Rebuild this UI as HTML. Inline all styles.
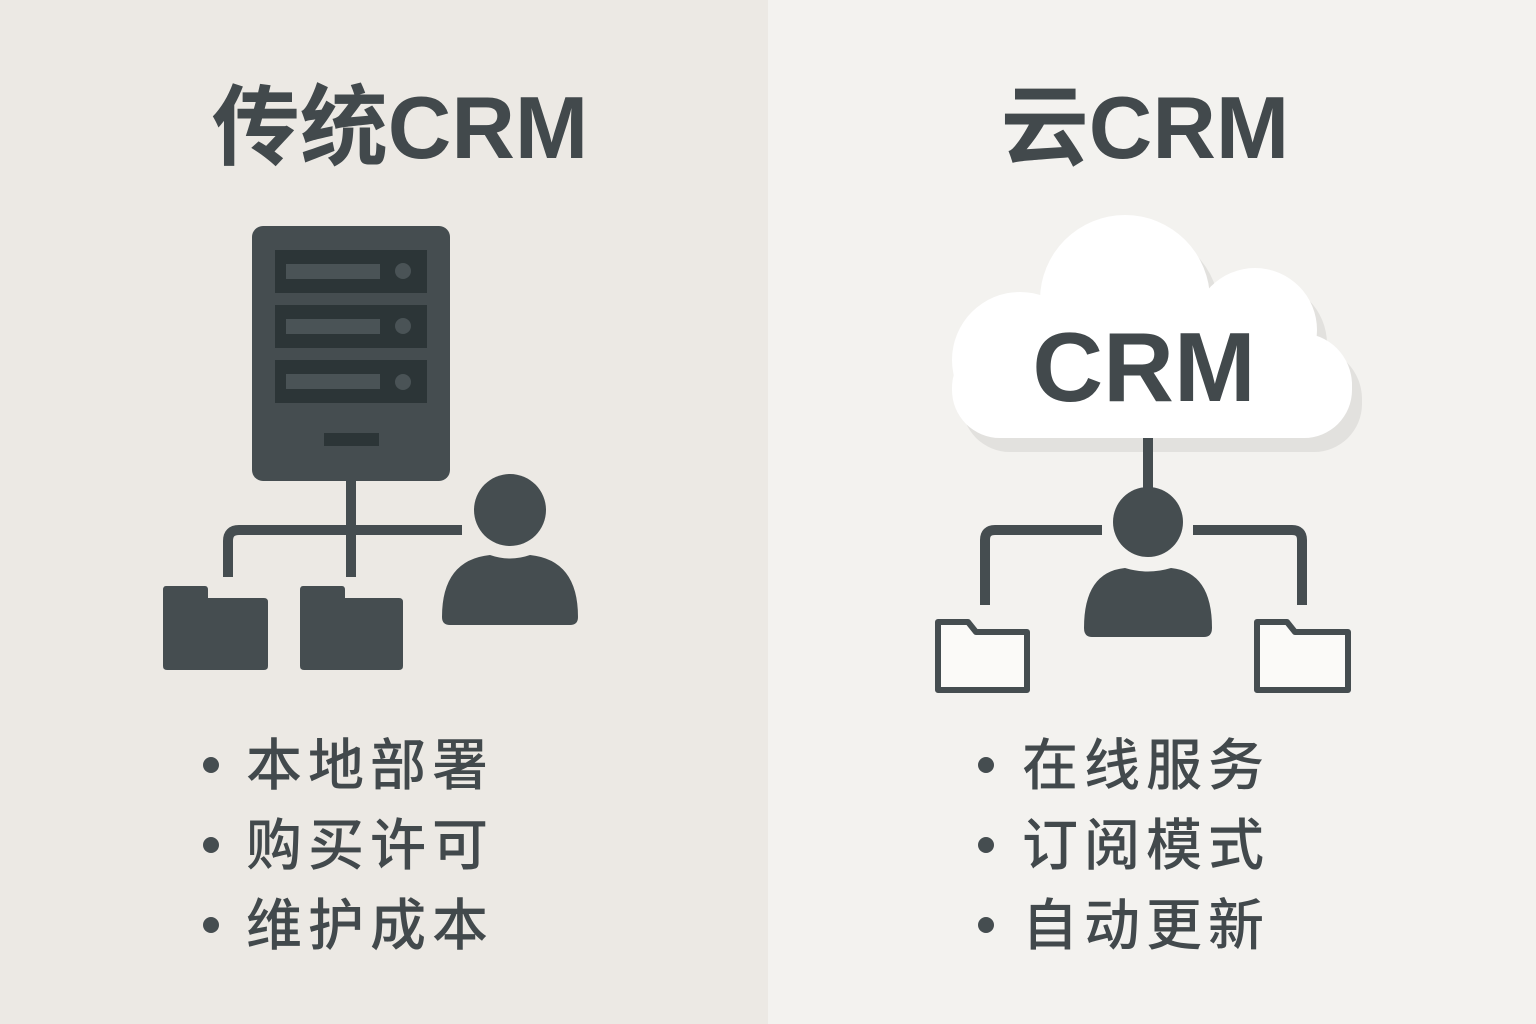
<!DOCTYPE html>
<html><head><meta charset="utf-8"><style>
html,body{margin:0;padding:0;width:1536px;height:1024px;overflow:hidden}
text{font-family:"Liberation Sans","Noto Sans CJK SC",sans-serif;fill:#42494c}
</style></head><body>
<svg width="1536" height="1024" viewBox="0 0 1536 1024" xmlns="http://www.w3.org/2000/svg">
<rect x="0" y="0" width="768" height="1024" fill="#ece9e4"/>
<rect x="768" y="0" width="768" height="1024" fill="#f3f2ef"/>
<text x="400" y="158" font-size="88" font-weight="bold" text-anchor="middle">传统CRM</text>
<text x="1145" y="158" font-size="88" font-weight="bold" text-anchor="middle">云CRM</text>

<g fill="#454d50">
<rect x="252" y="226" width="198" height="255" rx="11"/>
</g>
<g fill="#2c3537">
<rect x="275" y="250" width="152" height="43"/>
<rect x="275" y="305" width="152" height="43"/>
<rect x="275" y="360" width="152" height="43"/>
<rect x="324" y="433" width="55" height="13"/>
</g>
<g fill="#4a5356">
<rect x="286" y="264" width="94" height="15"/>
<rect x="286" y="319" width="94" height="15"/>
<rect x="286" y="374" width="94" height="15"/>
<circle cx="403" cy="271" r="8"/><circle cx="403" cy="326" r="8"/><circle cx="403" cy="382" r="8"/>
</g>
<g stroke="#454d50" stroke-width="10" fill="none">
<line x1="351" y1="481" x2="351" y2="577"/>
<path d="M228 577 V541 Q228 530 239 530 H462"/>
</g>
<g fill="#454d50">
<path d="M166 586 H205 Q208 586 208 590 V598 H264 Q268 598 268 602 V666 Q268 670 264 670 H167 Q163 670 163 666 V590 Q163 586 166 586Z"/>
<path d="M303 586 H342 Q345 586 345 590 V598 H399 Q403 598 403 602 V666 Q403 670 399 670 H304 Q300 670 300 666 V590 Q300 586 303 586Z"/>
<circle cx="510" cy="510" r="36"/>
<path d="M442 617 Q442 560 490 555 Q510 562 530 555 Q578 560 578 617 Q578 625 570 625 H450 Q442 625 442 617Z"/>
</g>
<g fill="#454d50">
<circle cx="211" cy="765" r="8"/><circle cx="211" cy="845" r="8"/><circle cx="211" cy="925" r="8"/>
<circle cx="986" cy="765" r="8"/><circle cx="986" cy="845" r="8"/><circle cx="986" cy="925" r="8"/>
</g>
<g font-size="56" letter-spacing="6" font-weight="500">
<text x="246" y="785">本地部署</text>
<text x="246" y="865">购买许可</text>
<text x="246" y="945">维护成本</text>
<text x="1022" y="785">在线服务</text>
<text x="1022" y="865">订阅模式</text>
<text x="1022" y="945">自动更新</text>
</g>

<g fill="#e2e1de" transform="translate(10,14)">
<circle cx="1125" cy="300" r="85"/><circle cx="1020" cy="360" r="68"/><circle cx="1255" cy="330" r="62"/><circle cx="1300" cy="385" r="52"/>
<rect x="952" y="340" width="400" height="98" rx="48"/>
</g>
<g fill="#ffffff">
<circle cx="1125" cy="300" r="85"/><circle cx="1020" cy="360" r="68"/><circle cx="1255" cy="330" r="62"/><circle cx="1300" cy="385" r="52"/>
<rect x="952" y="340" width="400" height="98" rx="48"/>
</g>
<text x="1144" y="401" font-size="98" font-weight="bold" text-anchor="middle">CRM</text>
<g stroke="#454d50" stroke-width="10" fill="none">
<line x1="1148" y1="438" x2="1148" y2="492"/>
<path d="M985 605 V540 Q985 530 995 530 H1102"/>
<path d="M1193 530 H1292 Q1302 530 1302 540 V605"/>
</g>
<g fill="#454d50">
<circle cx="1148" cy="522" r="35"/>
<path d="M1084 628 Q1084 572 1125 568 Q1148 575 1171 568 Q1212 572 1212 628 Q1212 637 1204 637 H1092 Q1084 637 1084 628Z"/>
</g>
<g stroke="#454d50" stroke-width="6" fill="#fbfaf8" stroke-linejoin="round">
<path d="M938 622 H968 L976 632 H1027 V690 H938 Z"/>
<path d="M1257 622 H1287 L1295 632 H1348 V690 H1257 Z"/>
</g>
</svg>
</body></html>
